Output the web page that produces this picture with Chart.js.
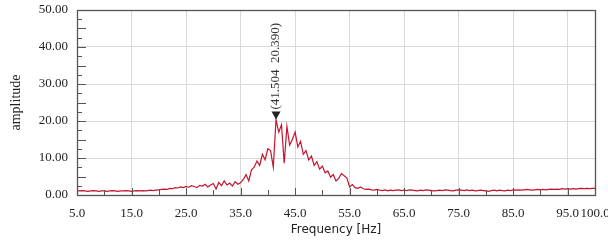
<!DOCTYPE html>
<html>
<head>
<meta charset="utf-8">
<script src="https://cdn.jsdelivr.net/npm/chart.js@4.4.1/dist/chart.umd.min.js"></script>
<style>
  html, body { margin: 0; padding: 0; background: #fff; }
  #wrap { width: 608px; height: 244px; }
</style>
</head>
<body>
<div id="wrap"><canvas id="myChart" width="608" height="244"></canvas></div>
<script>
// sampling grid of the spectrum (Hz)
var freqStart = 5.0;
var freqStep = 0.5;

// amplitude, one value per 0.5 Hz from 5.0 to 100.0
var amplitude = [
    1.2, 1.1, 1.2, 1.1, 1.0, 1.1, 1.2, 1.1, 1.0, 1.1,
    1.1, 1.0, 1.1, 1.2, 1.1, 1.0, 1.1, 1.1, 1.2, 1.1,
    1.0, 1.1, 1.2, 1.1, 1.2, 1.1, 1.2, 1.3, 1.2, 1.3, 1.4,
    // 20.5 - 25.0
    1.5, 1.6, 1.5, 1.8, 1.7, 2.0, 1.9, 2.2, 2.0, 2.3,
    // 25.5 - 30.0
    2.1, 2.5, 2.3, 2.0, 2.6, 2.4, 2.9, 2.2, 2.7, 3.1,
    // 30.5 - 35.0
    1.6, 3.4, 2.5, 3.8, 2.7, 3.2, 2.4, 3.6, 2.9, 3.3,
    // 35.5 - 40.0
    4.2, 5.5, 3.8, 6.8, 7.5, 9.2, 8.0, 11.0, 9.5, 12.5,
    // 40.5 - 45.0
    12.0, 7.5, 20.39, 17.0, 19.0, 8.6, 18.5, 13.5, 15.0, 17.0,
    // 45.5 - 50.0
    13.0, 14.5, 11.0, 12.0, 9.5, 10.5, 8.0, 9.0, 7.0, 7.8,
    // 50.5 - 55.0
    6.0, 6.5, 4.8, 5.5, 3.8, 4.5, 5.8, 5.2, 4.6, 2.2,
    // 55.5 - 60.0
    2.8, 2.0, 1.8, 2.2, 1.7, 1.5, 1.6, 1.4, 1.3, 1.5,
    // 60.5 - 100.0
    1.3, 1.2, 1.4, 1.1, 1.3, 1.2, 1.3, 1.4, 1.2, 1.3,
    1.2, 1.4, 1.3, 1.2, 1.1, 1.3, 1.2, 1.4, 1.3, 1.2,
    1.1, 1.2, 1.3, 1.2, 1.4, 1.3, 1.2, 1.1, 1.3, 1.4,
    1.3, 1.2, 1.4, 1.2, 1.3, 1.1, 1.2, 1.3, 1.2, 1.1,
    1.0, 1.2, 1.3, 1.1, 1.3, 1.2, 1.1, 1.3, 1.2, 1.4,
    1.3, 1.4, 1.3, 1.4, 1.5, 1.4, 1.3, 1.4, 1.5, 1.4,
    1.5, 1.4, 1.5, 1.6, 1.5, 1.6, 1.5, 1.7, 1.6, 1.7,
    1.6, 1.7, 1.6, 1.7, 1.8, 1.7, 1.8, 1.7, 1.8, 1.8
];

// axis ticks
var xTicks = [5.0, 15.0, 25.0, 35.0, 45.0, 55.0, 65.0, 75.0, 85.0, 95.0, 100.0];
var xMinorTicks = [10, 20, 30, 40, 50, 60, 70, 80, 90];
var yTicks = [0, 5, 10, 15, 20, 25, 30, 35, 40, 45, 50];
var yMinorTicks = [2.5, 7.5, 12.5, 17.5, 22.5, 27.5, 32.5, 37.5, 42.5, 47.5];

// peak cursor
var peakFreq = 41.504;
var peakAmp = 20.390;

var points = amplitude.map(function (v, i) {
    return { x: freqStart + i * freqStep, y: v };
});

var serif = '"Liberation Serif", "Times New Roman", serif';

// frame, inner tick marks and the peak cursor
var framePlugin = {
    id: 'frame',
    afterDraw: function (chart) {
        var c = chart.ctx, a = chart.chartArea;
        var xs = chart.scales.x, ys = chart.scales.y;
        c.save();
        c.strokeStyle = '#555';
        c.lineWidth = 1;
        // ticks on the bottom edge, pointing up
        xTicks.forEach(function (v) {
            var px = Math.round(xs.getPixelForValue(v)) + 0.5;
            c.beginPath(); c.moveTo(px, a.bottom); c.lineTo(px, a.bottom - 7); c.stroke();
        });
        xMinorTicks.forEach(function (v) {
            var px = Math.round(xs.getPixelForValue(v)) + 0.5;
            c.beginPath(); c.moveTo(px, a.bottom); c.lineTo(px, a.bottom - 5); c.stroke();
        });
        // ticks on the left edge, pointing right
        yTicks.forEach(function (v) {
            var py = Math.round(ys.getPixelForValue(v)) + 0.5;
            c.beginPath(); c.moveTo(a.left, py); c.lineTo(a.left + 9, py); c.stroke();
        });
        yMinorTicks.forEach(function (v) {
            var py = Math.round(ys.getPixelForValue(v)) + 0.5;
            c.beginPath(); c.moveTo(a.left, py); c.lineTo(a.left + 5, py); c.stroke();
        });
        // frame
        c.lineWidth = 1.3;
        c.strokeRect(Math.round(a.left) + 0.5, Math.round(a.top) + 0.5,
            Math.round(a.right - a.left), Math.round(a.bottom - a.top));

        // peak marker
        var mx = xs.getPixelForValue(peakFreq);
        var my = ys.getPixelForValue(peakAmp);
        c.fillStyle = '#222';
        c.beginPath();
        c.moveTo(mx, my);
        c.lineTo(mx - 4.5, my - 8);
        c.lineTo(mx + 4.5, my - 8);
        c.closePath();
        c.fill();
        c.translate(mx, my - 10);
        c.rotate(-Math.PI / 2);
        c.fillStyle = '#333';
        c.font = '13px ' + serif;
        c.textAlign = 'left';
        c.textBaseline = 'middle';
        c.fillText('(' + peakFreq.toFixed(3) + '  ' + peakAmp.toFixed(3) + ')', 0, 0);
        c.restore();
    }
};

function noEdgePadding(scale) {
    scale.paddingLeft = 0;
    scale.paddingRight = 0;
    scale.paddingTop = 0;
    scale.paddingBottom = 0;
}

const ctx = document.getElementById('myChart');
var xx = new Chart(ctx, {
    type: 'line',
    data: {
        datasets: [{
            label: 'amplitude',
            data: points,
            borderColor: '#c4142f',
            borderWidth: 1.2,
            pointRadius: 0,
            tension: 0,
            fill: false
        }]
    },
    options: {
        responsive: false,
        animation: false,
        events: [],
        layout: { padding: { top: 10, right: 13, left: 0, bottom: 0 } },
        plugins: {
            legend: { display: false },
            tooltip: { enabled: false }
        },
        scales: {
            x: {
                type: 'linear',
                min: 5,
                max: 100,
                afterBuildTicks: function (scale) {
                    scale.ticks = xTicks.map(function (v) { return { value: v }; });
                },
                afterFit: function (scale) { scale.height = 49; noEdgePadding(scale); },
                ticks: {
                    autoSkip: false,
                    maxRotation: 0,
                    minRotation: 0,
                    padding: 11,
                    color: '#222',
                    font: { family: serif, size: 13 },
                    callback: function (v) { return Number(v).toFixed(1); }
                },
                grid: {
                    drawTicks: false,
                    color: function (c) {
                        var v = c.tick ? c.tick.value : null;
                        return (v === 5 || v === 100) ? 'rgba(0,0,0,0)' : '#d9d9d9';
                    }
                },
                border: { display: false },
                title: {
                    display: true,
                    text: 'Frequency [Hz]',
                    color: '#222',
                    font: { family: '"DejaVu Sans", sans-serif', size: 12 },
                    padding: { top: 1, bottom: 7 }
                }
            },
            y: {
                min: 0,
                max: 50,
                afterBuildTicks: function (scale) {
                    scale.ticks = yTicks.map(function (v) { return { value: v }; });
                },
                afterFit: function (scale) { scale.width = 77; noEdgePadding(scale); },
                ticks: {
                    padding: 9,
                    color: '#222',
                    font: { family: serif, size: 13 },
                    callback: function (v) { return Number(v).toFixed(2); }
                },
                grid: {
                    drawTicks: false,
                    color: function (c) {
                        var v = c.tick ? c.tick.value : null;
                        return (v === 0 || v === 50) ? 'rgba(0,0,0,0)' : '#d9d9d9';
                    }
                },
                border: { display: false },
                title: {
                    display: true,
                    text: 'amplitude',
                    color: '#222',
                    font: { family: serif, size: 14 },
                    padding: { top: 8, bottom: 0 }
                }
            }
        }
    },
    plugins: [framePlugin]
});
</script>
</body>
</html>
